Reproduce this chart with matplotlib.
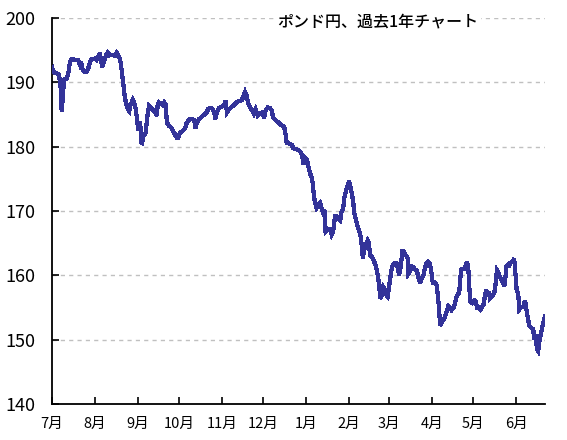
"""
plot.py — GBP/JPY one-year line chart (ポンド円、過去1年チャート).
Out: out.png (567x440)
"""
import numpy as np
import pandas as pd
import matplotlib
matplotlib.use("Agg")
import matplotlib.pyplot as plt

plt.rcParams["font.family"] = ["Noto Sans CJK JP", "DejaVu Sans"]

TITLE = "ポンド円、過去1年チャート"
START = "2015-07-01"

# days since START
days = [
    0, 0.9, 3.4, 5.1, 5.8, 6.5, 7.0, 7.7, 8.2, 8.7, 10.6, 11.8, 13.0, 14.3, 16.6,
    19.0, 20.3, 21.0, 21.9, 23.4, 25.1, 26.3, 27.5, 28.7, 31.1, 32.3, 34.0, 34.7,
    35.2, 36.4, 37.6, 39.1, 40.3, 41.5, 42.7, 44.4, 45.6, 46.8, 48.0, 49.2, 50.4,
    51.6, 52.8, 54.0, 55.2, 55.9, 56.9, 58.4, 60.1, 61.3, 62.4, 63.2, 64.2, 64.9,
    66.1,
    67.8, 68.5, 69.2, 70.2, 71.6, 73.3, 75.0, 75.8, 76.5, 77.4, 78.9, 80.1, 81.3,
    82.3, 83.0, 83.7, 84.7, 86.1, 87.8, 89.0, 90.2, 91.4, 92.6, 94.3, 96.2, 97.5,
    99.1, 101.1, 103.0, 104.0, 104.7, 106.4, 108.3, 110.2, 111.9, 113.1, 114.5,
    116.0, 117.4, 118.2, 119.2, 120.8, 122.8, 124.5, 125.7, 126.6, 128.1, 130.0,
    131.9, 133.7, 135.3, 137.3, 138.7, 139.7, 140.9, 142.0,
    143.3, 144.9, 146.2, 147.4, 148.9, 150.5, 152.2, 153.6, 154.6, 156.1, 157.8,
    159.0, 160.1, 161.9, 163.8, 165.7, 167.4, 168.1, 169.1, 169.8, 171.5, 173.4,
    174.6, 176.3, 178.2, 180.2, 181.1, 182.1, 183.1, 184.5, 185.5, 186.7, 187.9,
    188.9, 189.4, 190.3, 191.5, 192.7, 193.9, 195.2, 196.3, 197.5, 198.0, 199.5,
    201.2, 202.4, 203.5, 204.8, 206.0, 207.2, 208.6, 209.6, 210.8, 211.5,
    212.7, 214.0, 214.9, 215.6, 216.9, 218.0, 218.7, 220.0, 221.2, 222.4, 223.4,
    224.1, 225.0, 226.0, 227.2, 228.4, 229.4, 230.1, 231.8, 233.2, 234.5, 235.7,
    236.6, 237.6, 238.6, 239.7, 241.0, 242.2, 242.9, 244.1, 245.3, 246.2, 247.7,
    249.4, 250.6, 251.3, 252.5, 253.5, 254.7, 255.9, 257.4, 257.8, 259.1, 260.3,
    261.4, 262.7, 263.9, 265.1, 266.3, 267.5, 268.7, 269.9, 271.1, 272.3, 273.5,
    274.7, 275.5, 277.1, 278.4, 279.5, 280.2, 280.9, 282.4, 283.9,
    285.6, 286.8, 288.0, 289.2, 290.4, 291.6, 292.8, 294.0, 294.7, 295.2, 296.0,
    296.9, 298.3, 299.4, 300.3, 301.2, 302.0, 302.7, 304.1, 305.6, 306.8, 307.5,
    309.0, 310.2, 311.4, 312.6, 313.3, 314.3, 315.3, 316.2, 316.9, 318.2, 319.3,
    320.6, 321.3, 322.0, 322.9, 324.2, 325.4, 326.6, 327.3, 328.3, 329.0, 330.2,
    330.7, 331.4, 332.6, 333.8, 334.5, 335.5, 336.3, 337.4, 338.2, 339.4, 341.0,
    342.3, 343.2, 344.2, 345.4, 347.1, 348.3, 349.0, 350.0, 351.0, 351.9, 352.9,
    353.9, 355.2, 356.3, 356.8,
]

# GBP/JPY rate
rate = [
    192.4, 191.6, 191.4, 191.2, 189.8, 188.8, 185.5, 187.3, 188.8, 190.4, 190.6,
    191.4, 193.2, 193.6, 193.5, 193.4, 192.7, 193.2, 192.2, 191.6, 191.6, 192.2,
    193.2, 193.6, 193.7, 193.5, 194.2, 194.6, 193.7, 192.4, 193.2, 194.2, 194.6,
    194.2, 194.3, 194.2, 194.1, 194.6, 194.2, 193.7, 191.9, 189.8, 187.5, 186.5,
    185.7, 185.5, 186.5, 187.3, 186.5, 184.7, 182.6, 183.9, 182.9, 180.3, 181.6,
    182.2, 183.7, 185.0, 186.3, 186.0, 185.7, 185.3, 184.8, 186.5, 186.9, 186.7,
    186.5, 186.9, 186.5, 184.2, 183.5, 183.2, 183.0, 182.4, 181.9, 181.4, 181.4,
    182.2, 182.4, 182.8, 183.7, 184.2, 184.3, 184.1, 182.8, 183.7, 184.3, 184.6,
    185.0, 185.3, 185.9, 186.0, 185.9, 185.3, 184.3, 185.3, 186.0, 186.2, 186.5,
    187.1, 185.3, 185.8, 186.2, 186.5, 186.9, 187.1, 187.2, 187.9, 188.5, 187.9,
    186.8,
    186.1, 185.6, 185.1, 185.8, 184.8, 185.2, 185.3, 184.5, 185.6, 186.1, 186.0,
    185.6, 184.5, 184.1, 183.8, 183.4, 183.2, 183.0, 181.9, 180.6, 180.5, 180.3,
    179.8, 179.6, 179.5, 179.1, 178.5, 177.2, 178.3, 178.0, 177.0, 175.9, 175.2,
    174.1, 172.6, 171.3, 170.5, 171.0, 171.3, 170.4, 169.7, 170.1, 166.8, 167.1,
    167.2, 166.3, 166.8, 169.2, 169.2, 168.9, 168.6, 169.9, 170.5, 172.0,
    173.1, 173.9, 174.6, 174.1, 172.8, 171.5, 169.7, 168.6, 167.6, 166.8, 166.0,
    164.7, 162.7, 164.0, 164.7, 165.4, 165.0, 163.2, 162.8, 162.1, 161.4, 160.1,
    158.8, 156.4, 156.9, 158.2, 157.8, 156.9, 156.7, 158.5, 160.3, 161.4, 161.9,
    161.9, 160.8, 160.1, 161.4, 163.7, 163.7, 163.2, 162.7, 160.2, 160.6, 161.4,
    161.3, 160.9, 160.8, 159.8, 158.8, 159.5, 159.9, 161.1, 161.9, 162.1, 161.8,
    160.3, 158.9, 158.9, 158.5, 156.4, 154.6, 152.2, 152.8, 153.3,
    154.4, 155.2, 155.0, 154.6, 154.9, 155.6, 156.7, 157.2, 157.3, 158.7, 160.8,
    161.0, 161.0, 161.5, 162.1, 161.5, 158.2, 155.9, 155.7, 156.1, 155.9, 155.0,
    155.0, 154.7, 155.1, 155.6, 156.9, 157.7, 156.9, 157.4, 156.4, 156.7, 156.9,
    157.7, 159.2, 160.8, 160.5, 159.7, 159.2, 158.7, 158.3, 160.0, 161.5, 161.7,
    161.3, 161.9, 162.1, 162.3, 162.6, 160.0, 157.7, 157.2, 154.7, 155.0, 155.1,
    156.1, 154.9, 153.6, 152.2, 151.8, 151.6, 150.0, 150.8, 148.5, 148.2, 150.0,
    151.0, 152.3, 153.3, 153.6,
]

month_starts = pd.date_range(START, periods=12, freq="MS")
month_days = [(m - pd.Timestamp(START)).days for m in month_starts]
month_labels = [f"{m.month}月" for m in month_starts]
yticks = [140, 150, 160, 170, 180, 190, 200]


def main():
    fig = plt.figure(figsize=(5.67, 4.4), dpi=100)
    ax = fig.add_axes([0.0917, 0.0818, 0.8695, 0.8773])

    ax.plot(days, rate, color="#333399", lw=2.3, antialiased=False,
            solid_joinstyle="miter", zorder=3)

    ax.set_xlim(0, days[-1])
    ax.set_ylim(140, 200)
    ax.set_yticks(yticks)
    ax.set_xticks(month_days)
    ax.set_xticklabels(month_labels)

    for v in yticks[1:]:
        ax.axhline(v, color="#c0c0c0", lw=1, ls=(0, (3, 3)), zorder=1)

    for s in ("top", "right"):
        ax.spines[s].set_visible(False)
    for s in ("left", "bottom"):
        ax.spines[s].set_linewidth(1.3)
        ax.spines[s].set_color("black")

    ax.tick_params(axis="y", direction="in", length=5, width=1.2, pad=12,
                   labelsize=13)
    ax.tick_params(axis="x", direction="in", length=5, width=1.2, pad=9,
                   labelsize=10.5)

    ax.text(0.456, 0.99, TITLE, transform=ax.transAxes, ha="left", va="center",
            fontsize=11.5, fontweight="medium", zorder=4,
            bbox=dict(facecolor="white", edgecolor="none", pad=2))

    fig.savefig("out.png", dpi=100)
    plt.close(fig)


if __name__ == "__main__":
    main()
